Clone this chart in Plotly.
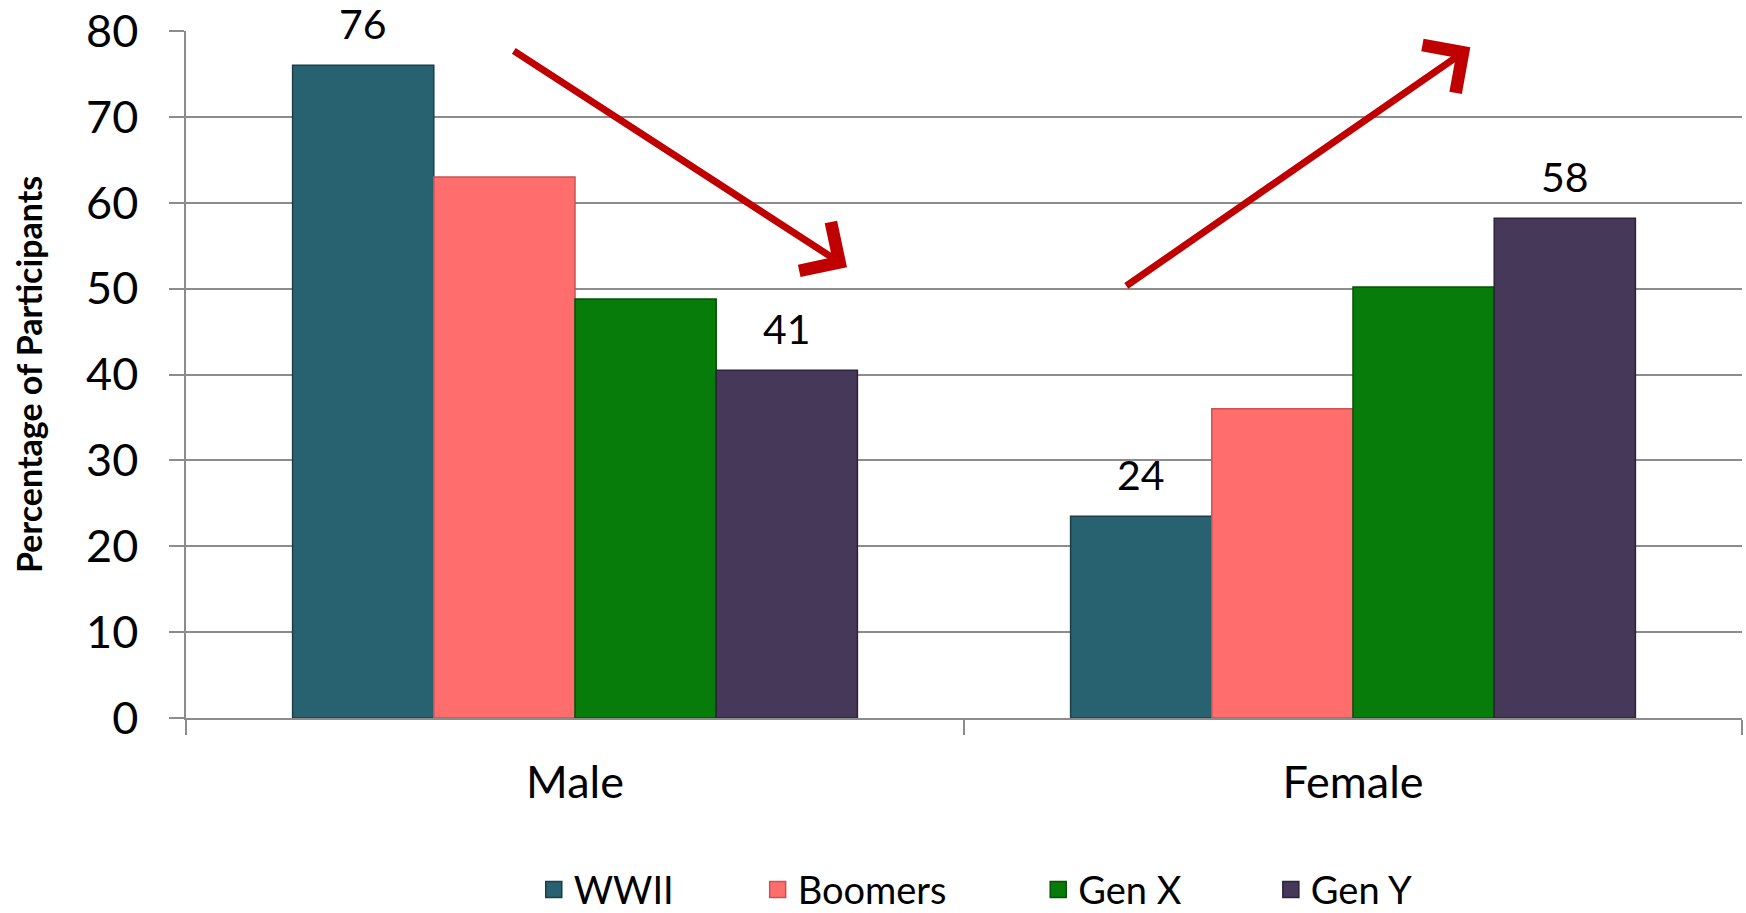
import plotly.graph_objects as go

categories = ["Male", "Female"]
series_names = ["WWII", "Boomers", "Gen X", "Gen Y"]
wwii = [76.0, 23.5]
boomers = [63.0, 36.0]
genx = [48.8, 50.2]
geny = [40.5, 58.2]
labels = [["76", "24"], ["", ""], ["", ""], ["41", "58"]]
y_ticks = [0, 10, 20, 30, 40, 50, 60, 70, 80]

colors = ["#28616F", "#FF6D6D", "#077C0B", "#463858"]
edges = ["#1A3F48", "#C95353", "#045207", "#2C2339"]
series_values = [wwii, boomers, genx, geny]

FONT = "Lato"
BARGAP = 0.274
legend_ids = ["legend", "legend2", "legend3", "legend4"]
legend_x = [0.2235, 0.3674, 0.5477, 0.6972]

fig = go.Figure()
for name, vals, col, ed in zip(series_names, series_values, colors, edges):
    fig.add_trace(go.Bar(
        name=name, x=categories, y=vals, showlegend=False, legendgroup=name,
        marker=dict(color=col, line=dict(color=ed, width=1.5)),
    ))
# legend entries with larger square swatches
for name, col, ed, lid in zip(series_names, colors, edges, legend_ids):
    fig.add_trace(go.Scatter(
        name=name, x=[None], y=[None], mode="markers", legendgroup=name, legend=lid,
        marker=dict(symbol="square", size=16, color=col, line=dict(color=ed, width=1.5)),
    ))

# data labels
bw = (1 - BARGAP) / len(series_names)
for si, (vals, labs) in enumerate(zip(series_values, labels)):
    for ci, (v, lab) in enumerate(zip(vals, labs)):
        if lab:
            fig.add_annotation(
                x=ci + (si - 1.5) * bw, y=v, xref="x", yref="y",
                text=lab, showarrow=False, yanchor="bottom", yshift=15,
                font=dict(family=FONT, size=41, color="black"),
            )

# trend arrows
arrow_style = dict(showarrow=True, arrowhead=4, arrowsize=1.6, arrowwidth=7,
                   arrowcolor="#C00000", xref="x", yref="y", axref="x", ayref="y",
                   text="", standoff=0)
fig.add_annotation(x=0.3496, y=52.5, ax=-0.0806, ay=77.8, **arrow_style)
fig.add_annotation(x=1.1508, y=78.1, ax=0.7067, ay=50.2, **arrow_style)

# y-axis title
fig.add_annotation(
    text="<b>Percentage of Participants</b>", xref="paper", yref="paper",
    x=-0.1013, y=0.5, xanchor="center", yanchor="middle", textangle=-90,
    showarrow=False, font=dict(family=FONT, size=34, color="black"),
)

legend_common = dict(orientation="h", xanchor="left", y=-0.25, yanchor="middle",
                     font=dict(family=FONT, size=38), itemwidth=30, itemsizing="trace",
                     bgcolor="rgba(0,0,0,0)")

fig.update_layout(
    barmode="group", bargap=BARGAP, bargroupgap=0,
    width=1746, height=913,
    margin=dict(l=186, r=4, t=31, b=195, autoexpand=False),
    plot_bgcolor="white", paper_bgcolor="white",
    font=dict(family=FONT, color="black"),
    showlegend=True,
    legend=dict(x=legend_x[0], **legend_common),
    legend2=dict(x=legend_x[1], **legend_common),
    legend3=dict(x=legend_x[2], **legend_common),
    legend4=dict(x=legend_x[3], **legend_common),
)
fig.update_xaxes(
    type="category", range=[-0.5, 1.5], automargin=False,
    showline=True, linecolor="#8C8C8C", linewidth=1.5,
    ticks="outside", tickson="boundaries", ticklen=15, tickcolor="#8C8C8C", tickwidth=1.5,
    tickfont=dict(family=FONT, size=45), ticklabelstandoff=24,
    showgrid=False,
)
fig.update_yaxes(
    range=[0, 80], tickvals=y_ticks, automargin=False,
    showline=True, linecolor="#8C8C8C", linewidth=1.5,
    ticks="outside", ticklen=15, tickcolor="#8C8C8C", tickwidth=1.5,
    tickfont=dict(family=FONT, size=45), ticklabelstandoff=22,
    showgrid=True, gridcolor="#8C8C8C", gridwidth=1.5,
    zeroline=False,
)

fig.write_html(
    "out.html",
    config={"displayModeBar": False},
    post_script="document.body.style.margin='0';document.body.style.overflow='hidden';",
)
